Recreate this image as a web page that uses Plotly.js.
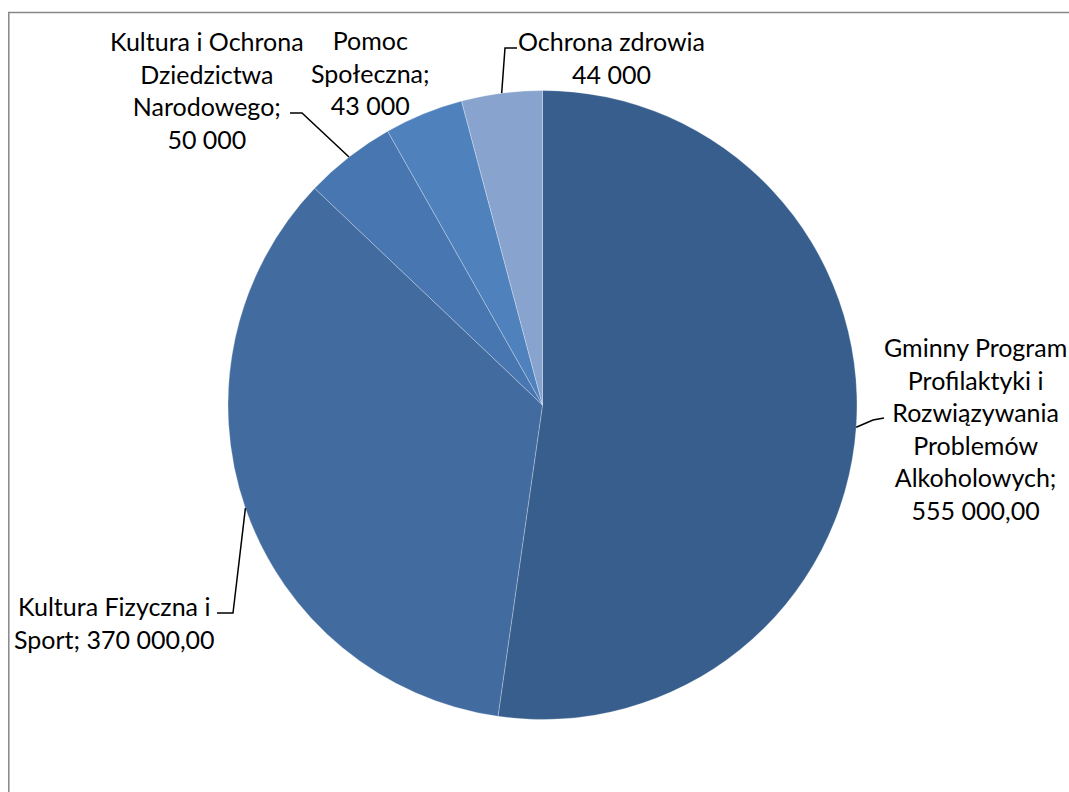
<!DOCTYPE html>
<html>
<head>
<meta charset="utf-8">
<script src="https://cdn.plot.ly/plotly-3.0.1.min.js"></script>
<style>
html,body{margin:0;padding:0;overflow:hidden;background:#fff;}
#chart{width:1069px;height:792px;}
</style>
</head>
<body>
<div id="chart"></div>
<script>
// ---- data ----
const categories = [
  "Gminny Program Profilaktyki i Rozwiązywania Problemów Alkoholowych",
  "Kultura Fizyczna i Sport",
  "Kultura i Ochrona Dziedzictwa Narodowego",
  "Pomoc Społeczna",
  "Ochrona zdrowia"
];
const values = [555000, 370000, 50000, 43000, 44000];
const labelTexts = [
  "Gminny Program<br>Profilaktyki i<br>Rozwiązywania<br>Problemów<br>Alkoholowych;<br>555 000,00",
  "Kultura Fizyczna i<br>Sport; 370 000,00",
  "Kultura i Ochrona<br>Dziedzictwa<br>Narodowego;<br>50 000",
  "Pomoc<br>Społeczna;<br>43 000",
  "Ochrona zdrowia<br>44 000"
];
const colors = ["#375E8C", "#426BA0", "#4776B0", "#4F81BD", "#88A3CD"];

// ---- layout geometry (pixels) ----
const W = 1069, H = 792;
const cx = 542.5, cy = 405, R = 314.5;
const px = x => x / W;
const py = y => 1 - y / H;

// label block centres and leader elbow points (layout only)
const labelPos = [
  {x: 975, y: 428, bend: [[873, 420], [884, 418]]},
  {x: 114, y: 622, bend: [[233, 613], [217, 613]]},
  {x: 207, y: 90,  bend: [[302, 113], [290, 113]]},
  {x: 370, y: 72,  bend: null},
  {x: 611, y: 57,  bend: [[505, 48], [517, 48]]}
];

const total = values.reduce((a, b) => a + b, 0);
let cum = 0;
const annotations = [];
const shapes = [];
values.forEach((v, i) => {
  const mid = (cum + v / 2) / total * 2 * Math.PI; // clockwise from 12 o'clock
  cum += v;
  const ax = cx + R * Math.sin(mid);
  const ay = cy - R * Math.cos(mid);
  const lp = labelPos[i];
  annotations.push({
    x: px(lp.x), y: py(lp.y), xref: "paper", yref: "paper",
    xanchor: "center", yanchor: "middle", align: "center",
    text: labelTexts[i], showarrow: false,
    font: {family: "Lato, 'Open Sans', sans-serif", size: 25, color: "#000"}
  });
  if (lp.bend) {
    let path = `M ${px(ax)} ${py(ay)}`;
    lp.bend.forEach(p => { path += ` L ${px(p[0])} ${py(p[1])}`; });
    shapes.push({type: "path", xref: "paper", yref: "paper", path: path,
      line: {color: "#000", width: 1.5}});
  }
});

// outer chart border (top & left visible)
shapes.push({type: "rect", xref: "paper", yref: "paper",
  x0: px(8.8), y0: py(12.5), x1: px(1200), y1: py(1000),
  line: {color: "#878787", width: 1.5}, fillcolor: "rgba(0,0,0,0)"});

const trace = {
  type: "pie",
  labels: categories,
  values: values,
  sort: false,
  direction: "clockwise",
  rotation: 0,
  textinfo: "none",
  hoverinfo: "none",
  marker: {colors: colors, line: {color: "rgba(255,255,255,0.35)", width: 0.8}},
  domain: {x: [px(cx - R), px(cx + R)], y: [py(cy + R), py(cy - R)]}
};

const layout = {
  width: W, height: H,
  margin: {l: 0, r: 0, t: 0, b: 0},
  paper_bgcolor: "#fff",
  showlegend: false,
  annotations: annotations,
  shapes: shapes
};

Plotly.newPlot("chart", [trace], layout, {staticPlot: true, displayModeBar: false});
</script>
</body>
</html>
